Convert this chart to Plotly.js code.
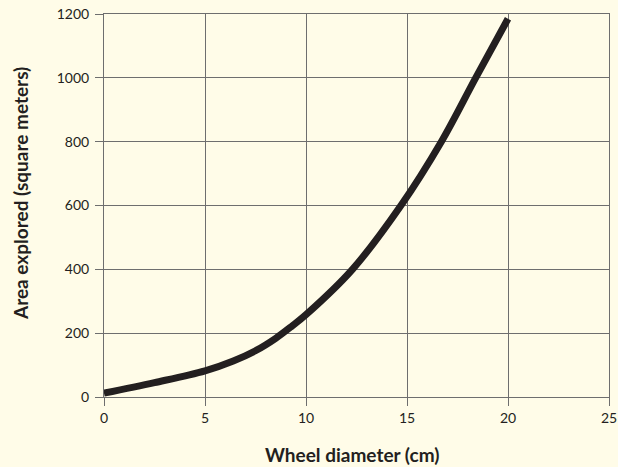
<!DOCTYPE html>
<html>
<head>
<meta charset="utf-8">
<script src="https://cdn.plot.ly/plotly-3.0.1.min.js"></script>
<style>html,body{margin:0;padding:0;background:#FFFCE8;}#chart{width:618px;height:467px;}</style>
</head>
<body>
<div id="chart"></div>
<script>
const wheelDiameter = [0, 2.5, 5, 6.4, 7.5, 8.5, 9.3, 10, 12.3, 14.7, 16.7, 18.4, 20];
const areaExplored = [12, 45, 82, 113, 145, 184, 222, 258, 400, 600, 800, 1000, 1185];
const xTicks = [0, 5, 10, 15, 20, 25];
const yTicks = [0, 200, 400, 600, 800, 1000, 1200];
const xTitle = 'Wheel diameter (cm)';
const yTitle = 'Area explored (square meters)';

const fontFam = 'Lato, Open Sans, sans-serif';
const titleFont = {family: fontFam, size: 19, color: '#231F20', weight: 'bold'};
const trace = {
  x: wheelDiameter, y: areaExplored, type: 'scatter', mode: 'lines',
  line: {color: '#231F20', width: 7, shape: 'spline', smoothing: 1},
  hoverinfo: 'skip'
};
const axisCommon = {
  showgrid: true, gridcolor: '#6e6e6e', gridwidth: 1,
  showline: true, linecolor: '#6e6e6e', linewidth: 1, mirror: true,
  ticks: 'outside', ticklen: 8, tickcolor: '#6e6e6e', tickwidth: 1,
  zeroline: false, tickfont: {family: fontFam, size: 14, color: '#231F20'}
};
const layout = {
  width: 618, height: 467,
  paper_bgcolor: '#FFFCE8', plot_bgcolor: '#FFFCE8',
  margin: {l: 104, r: 9, t: 14, b: 70},
  showlegend: false,
  xaxis: Object.assign({}, axisCommon, {
    range: [0, 25], tickvals: xTicks, ticktext: xTicks.map(String)
  }),
  yaxis: Object.assign({}, axisCommon, {
    range: [0, 1200], tickvals: yTicks, ticktext: yTicks.map(String),
    ticklabelstandoff: 3
  }),
  annotations: [
    {text: xTitle, xref: 'paper', yref: 'paper', x: 0.491, y: -0.1514,
     xanchor: 'center', yanchor: 'middle', showarrow: false, font: titleFont},
    {text: yTitle, xref: 'paper', yref: 'paper', x: -0.1663, y: 0.530, textangle: -90,
     xanchor: 'center', yanchor: 'middle', showarrow: false, font: titleFont}
  ]
};
Plotly.newPlot('chart', [trace], layout, {displayModeBar: false, staticPlot: true});
</script>
</body>
</html>
